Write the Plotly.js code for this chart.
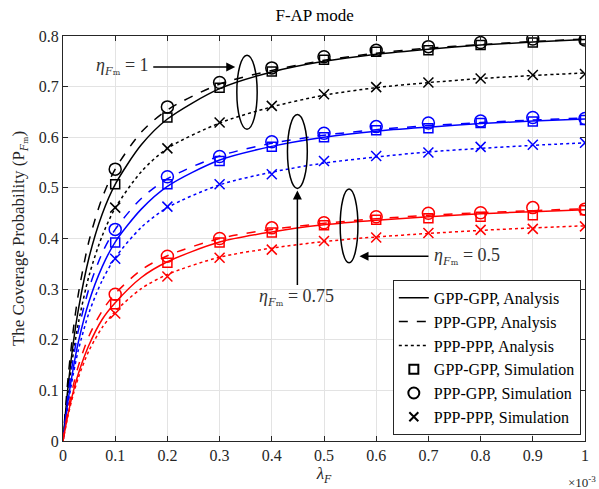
<!DOCTYPE html>
<html>
<head>
<meta charset="utf-8">
<script src="https://cdn.plot.ly/plotly-3.0.1.min.js"></script>
<style>html,body{margin:0;padding:0;background:#fff;}#chart{width:599px;height:489px;}</style>
</head>
<body>
<div id="chart"></div>
<script>
// lambda_F in units of 1e-3
const xLine = [0, 0.01, 0.02, 0.03, 0.05, 0.075, 0.1, 0.15, 0.2, 0.3, 0.4, 0.5, 0.6, 0.7, 0.8, 0.9, 1.0];
const xSim = [0.1, 0.2, 0.3, 0.4, 0.5, 0.6, 0.7, 0.8, 0.9, 1.0];

// Analysis curves (eta = 1, black)
const blackGG = [0, 0.111, 0.196, 0.263, 0.363, 0.448, 0.507, 0.585, 0.636, 0.696, 0.729, 0.750, 0.764, 0.774, 0.782, 0.788, 0.793];
const blackPG = [0, 0.128, 0.222, 0.294, 0.396, 0.480, 0.537, 0.610, 0.654, 0.705, 0.732, 0.752, 0.766, 0.776, 0.783, 0.789, 0.794];
const blackPP = [0, 0.098, 0.175, 0.236, 0.327, 0.405, 0.460, 0.532, 0.578, 0.628, 0.660, 0.683, 0.698, 0.708, 0.716, 0.722, 0.727];
// eta = 0.75, blue
const blueGG = [0, 0.082, 0.146, 0.198, 0.276, 0.344, 0.393, 0.458, 0.503, 0.555, 0.582, 0.600, 0.612, 0.620, 0.627, 0.632, 0.636];
const bluePG = [0, 0.094, 0.165, 0.221, 0.302, 0.371, 0.418, 0.479, 0.518, 0.563, 0.588, 0.604, 0.615, 0.623, 0.629, 0.634, 0.638];
const bluePP = [0, 0.075, 0.134, 0.182, 0.254, 0.317, 0.362, 0.422, 0.461, 0.506, 0.531, 0.549, 0.561, 0.571, 0.578, 0.584, 0.589];
// eta = 0.5, red
const redGG = [0, 0.055, 0.099, 0.135, 0.190, 0.240, 0.273, 0.323, 0.354, 0.393, 0.413, 0.427, 0.436, 0.443, 0.449, 0.453, 0.457];
const redPG = [0, 0.063, 0.111, 0.150, 0.208, 0.257, 0.291, 0.338, 0.366, 0.400, 0.418, 0.430, 0.439, 0.446, 0.451, 0.455, 0.459];
const redPP = [0, 0.052, 0.093, 0.127, 0.179, 0.224, 0.256, 0.301, 0.329, 0.363, 0.381, 0.394, 0.403, 0.410, 0.416, 0.421, 0.425];

// Simulation points
const blackSimGG = [0.507, 0.639, 0.698, 0.730, 0.753, 0.769, 0.772, 0.782, 0.787, 0.793];
const blackSimPG = [0.537, 0.660, 0.708, 0.737, 0.759, 0.772, 0.779, 0.787, 0.794, 0.792];
const blackSimPP = [0.461, 0.578, 0.629, 0.662, 0.685, 0.699, 0.708, 0.716, 0.723, 0.725];
const blueSimGG = [0.392, 0.507, 0.553, 0.581, 0.600, 0.614, 0.618, 0.628, 0.631, 0.634];
const blueSimPG = [0.418, 0.522, 0.562, 0.591, 0.608, 0.621, 0.628, 0.632, 0.639, 0.637];
const blueSimPP = [0.360, 0.463, 0.507, 0.527, 0.553, 0.563, 0.570, 0.581, 0.585, 0.589];
const redSimGG = [0.270, 0.352, 0.392, 0.412, 0.426, 0.437, 0.440, 0.443, 0.446, 0.456];
const redSimPG = [0.290, 0.365, 0.400, 0.421, 0.431, 0.443, 0.450, 0.451, 0.461, 0.458];
const redSimPP = [0.252, 0.325, 0.362, 0.378, 0.395, 0.402, 0.411, 0.417, 0.419, 0.424];

const legendNames = ['GPP-GPP, Analysis', 'PPP-GPP, Analysis', 'PPP-PPP, Analysis',
  'GPP-GPP, Simulation', 'PPP-GPP, Simulation', 'PPP-PPP, Simulation'];

const FONT = 'Liberation Serif, DejaVu Serif, serif';
const LW = 1.5;
const traces = [];
function line(y, color, dash) {
  traces.push({x: xLine, y: y, mode: 'lines', type: 'scatter', showlegend: false,
    line: {color: color, width: LW, dash: dash, shape: 'spline', smoothing: 0.8}, hoverinfo: 'skip'});
}
function sim(y, color, sym, size) {
  traces.push({x: xSim, y: y, mode: 'markers', type: 'scatter', showlegend: false,
    marker: {symbol: sym, size: size, color: color, line: {color: color, width: LW}}, hoverinfo: 'skip'});
}
const groups = [
  ['#000000', blackGG, blackPG, blackPP, blackSimGG, blackSimPG, blackSimPP],
  ['#0000ff', blueGG, bluePG, bluePP, blueSimGG, blueSimPG, blueSimPP],
  ['#ff0000', redGG, redPG, redPP, redSimGG, redSimPG, redSimPP]
];
groups.forEach(g => {
  line(g[1], g[0], 'solid');
  line(g[2], g[0], 'dash');
  line(g[3], g[0], 'dot');
  sim(g[4], g[0], 'square-open', 9);
  sim(g[5], g[0], 'circle-open', 12);
  sim(g[6], g[0], 'x-thin-open', 10);
});
// legend entries (black)
const legDash = ['solid', 'dash', 'dot'];
legDash.forEach((d, i) => traces.push({x: [null], y: [null], mode: 'lines', type: 'scatter', name: legendNames[i],
  line: {color: '#000', width: LW, dash: d}}));
const legSym = ['square-open', 'circle-open', 'x-thin-open'];
const legSize = [9, 11, 9];
legSym.forEach((s, i) => traces.push({x: [null], y: [null], mode: 'markers', type: 'scatter', name: legendNames[3 + i],
  marker: {symbol: s, size: legSize[i], color: '#000', line: {color: '#000', width: 2}}}));

const etaTxt = v => '<i>η</i><sub><i>F</i>ₘ</sub> = ' + v;
const axisCommon = {
  showline: true, linecolor: '#262626', linewidth: 1, mirror: 'ticks', ticks: 'inside', ticklen: 5,
  tickcolor: '#262626', showgrid: true, gridcolor: '#e3e3e3', gridwidth: 1, zeroline: false,
  tickfont: {family: FONT, size: 16, color: '#262626'}
};
const layout = {
  width: 599, height: 489,
  margin: {l: 63, r: 14, t: 36, b: 48},
  paper_bgcolor: '#fff', plot_bgcolor: '#fff',
  font: {family: FONT, color: '#262626'},
  title: {text: 'F-AP mode', x: 0.482, xref: 'paper', y: 0.97, yref: 'container', yanchor: 'middle',
    font: {family: FONT, size: 17, color: '#000'}},
  xaxis: Object.assign({}, axisCommon, {range: [0, 1], dtick: 0.1, tick0: 0,
    title: {text: '<i>λ</i><sub><i>F</i></sub>', standoff: 1, font: {family: FONT, size: 17, color: '#262626'}}}),
  yaxis: Object.assign({}, axisCommon, {range: [0, 0.8], dtick: 0.1, tick0: 0,
    title: {text: 'The Coverage Probability (P<sub><i>F</i>ₘ</sub>)', standoff: 9, font: {family: FONT, size: 17, color: '#262626'}}}),
  showlegend: true,
  legend: {x: 0.992, xanchor: 'right', y: 0.015, yanchor: 'bottom', bgcolor: '#fff',
    bordercolor: '#262626', borderwidth: 1, font: {family: FONT, size: 16, color: '#000'},
    tracegroupgap: 0, itemwidth: 30},
  shapes: [
    {type: 'circle', xref: 'x', yref: 'y', x0: 0.333, x1: 0.372, y0: 0.616, y1: 0.762, line: {color: '#000', width: 1.5}},
    {type: 'circle', xref: 'x', yref: 'y', x0: 0.430, x1: 0.468, y0: 0.499, y1: 0.645, line: {color: '#000', width: 1.5}},
    {type: 'circle', xref: 'x', yref: 'y', x0: 0.531, x1: 0.565, y0: 0.352, y1: 0.498, line: {color: '#000', width: 1.5}}
  ],
  annotations: [
    {x: 0.330, y: 0.739, ax: 0.170, ay: 0.739, xref: 'x', yref: 'y', axref: 'x', ayref: 'y', text: '',
      showarrow: true, arrowhead: 2, arrowsize: 1.2, arrowwidth: 1.5, arrowcolor: '#000'},
    {x: 0.168, y: 0.739, xref: 'x', yref: 'y', text: etaTxt('1'), showarrow: false, xanchor: 'right',
      font: {family: FONT, size: 18, color: '#333'}},
    {x: 0.449, y: 0.495, ax: 0.449, ay: 0.305, xref: 'x', yref: 'y', axref: 'x', ayref: 'y', text: '',
      showarrow: true, arrowhead: 2, arrowsize: 1.2, arrowwidth: 1.5, arrowcolor: '#000'},
    {x: 0.447, y: 0.284, xref: 'x', yref: 'y', text: etaTxt('0.75'), showarrow: false, xanchor: 'center',
      font: {family: FONT, size: 18, color: '#333'}},
    {x: 0.568, y: 0.365, ax: 0.703, ay: 0.365, xref: 'x', yref: 'y', axref: 'x', ayref: 'y', text: '',
      showarrow: true, arrowhead: 2, arrowsize: 1.2, arrowwidth: 1.5, arrowcolor: '#000'},
    {x: 0.706, y: 0.365, xref: 'x', yref: 'y', text: etaTxt('0.5'), showarrow: false, xanchor: 'left',
      font: {family: FONT, size: 18, color: '#333'}},
    {x: 1.024, y: -0.1, xref: 'paper', yref: 'paper', text: '×10<sup>-3</sup>', showarrow: false,
      xanchor: 'right', yanchor: 'middle', font: {family: FONT, size: 13, color: '#262626'}}
  ]
};
Plotly.newPlot('chart', traces, layout, {displayModeBar: false, staticPlot: true});
</script>
</body>
</html>
